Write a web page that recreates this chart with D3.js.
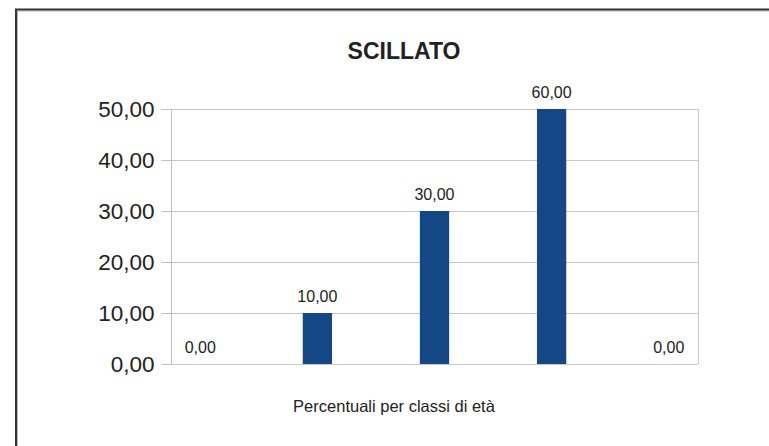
<!DOCTYPE html>
<html>
<head>
<meta charset="utf-8">
<script src="https://cdnjs.cloudflare.com/ajax/libs/d3/7.8.5/d3.min.js"></script>
<style>
  body { margin: 0; background: #fff; }
  svg { display: block; font-family: "Liberation Sans", Arial, sans-serif; }
</style>
</head>
<body>
<svg id="chart" width="769" height="446"></svg>
<script>
// data
var title      = "SCILLATO",
    xTitle     = "Percentuali per classi di età",
    categories = ["c1", "c2", "c3", "c4", "c5"],
    values     = [0, 10, 30, 60, 0],
    yTicks     = [0, 10, 20, 30, 40, 50];

var svg = d3.select("#chart"),
    W   = +svg.attr("width"),
    H   = +svg.attr("height"),
    margin = { left: 171, right: 71, top: 109, bottom: 82 };

var fmt = function (v) { return d3.format(".2f")(v).replace(".", ","); };

// outer frame (only top and left visible)
svg.append("rect")
    .attr("x", 17.5).attr("y", 11).attr("width", W).attr("height", H)
    .attr("fill", "none").attr("stroke", "#bbb").attr("stroke-width", 1);
svg.append("rect")
    .attr("x", 16).attr("y", 9.5).attr("width", W).attr("height", H)
    .attr("fill", "none").attr("stroke", "#333").attr("stroke-width", 2);

var x = d3.scaleBand()
    .domain(categories)
    .range([margin.left, W - margin.right])
    .paddingInner(0.75)
    .paddingOuter(0.125);

var y = d3.scaleLinear()
    .domain([0, 50])
    .range([H - margin.bottom, margin.top]);

// gridlines
svg.append("g")
    .selectAll("line")
    .data(yTicks)
    .join("line")
    .attr("x1", margin.left).attr("x2", W - margin.right)
    .attr("y1", function (d) { return Math.round(y(d)) + 0.5; })
    .attr("y2", function (d) { return Math.round(y(d)) + 0.5; })
    .attr("stroke", "#c8c8c8");

// right edge of plot area
svg.append("line")
    .attr("x1", W - margin.right + 0.5).attr("x2", W - margin.right + 0.5)
    .attr("y1", y(50)).attr("y2", y(0))
    .attr("stroke", "#c8c8c8");

// bars (clipped at the top of the axis)
svg.append("clipPath").attr("id", "plotclip")
    .append("rect")
    .attr("x", margin.left).attr("y", y(50))
    .attr("width", W - margin.left - margin.right).attr("height", y(0) - y(50));

svg.append("g")
    .attr("clip-path", "url(#plotclip)")
    .selectAll("rect")
    .data(values)
    .join("rect")
    .attr("x", function (d, i) { return x(categories[i]); })
    .attr("width", x.bandwidth())
    .attr("y", function (d) { return y(d); })
    .attr("height", function (d) { return y(0) - y(d); })
    .attr("fill", "#134785");

// value labels
svg.append("g")
    .selectAll("text")
    .data(values)
    .join("text")
    .attr("x", function (d, i) { return x(categories[i]) + x.bandwidth() / 2; })
    .attr("y", function (d) { return y(Math.min(d, 50)) - 11; })
    .attr("text-anchor", "middle")
    .attr("font-size", 16)
    .attr("fill", "#222")
    .text(fmt);

// y axis
var yAxis = svg.append("g")
    .attr("transform", "translate(" + (margin.left + 0.5) + ",0)")
    .call(d3.axisLeft(y).tickValues(yTicks).tickSize(10).tickPadding(7).tickFormat(fmt));
yAxis.selectAll("line, path").attr("stroke", "#c0c0c0");
yAxis.select(".domain").attr("d", "M0," + y(50) + "V" + y(0));
yAxis.selectAll("text")
    .attr("font-size", 22.5)
    .attr("font-family", "Liberation Sans, Arial, sans-serif")
    .attr("fill", "#222");

// titles
svg.append("text")
    .attr("x", 404).attr("y", 59)
    .attr("text-anchor", "middle")
    .attr("font-size", 23).attr("font-weight", "bold")
    .attr("fill", "#222")
    .text(title);

svg.append("text")
    .attr("x", 394).attr("y", 412)
    .attr("text-anchor", "middle")
    .attr("font-size", 16.5)
    .attr("fill", "#222")
    .text(xTitle);
</script>
</body>
</html>
